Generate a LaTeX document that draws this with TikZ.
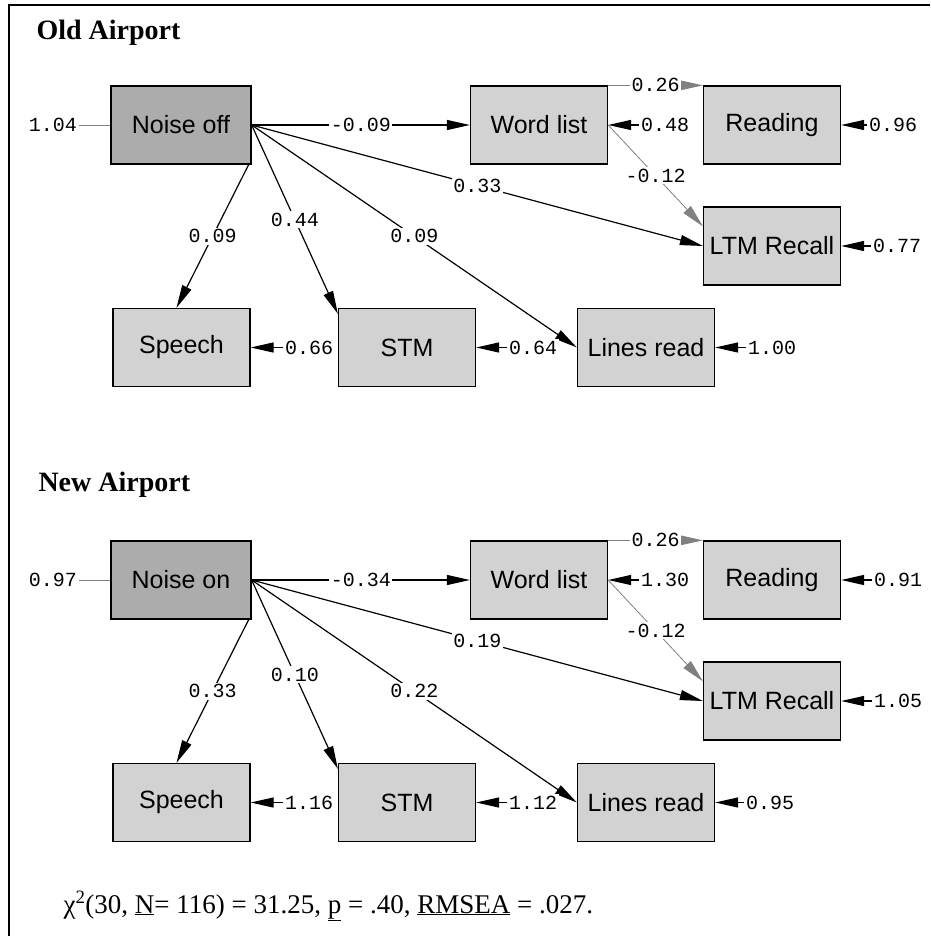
\documentclass[tikz,border=0pt]{standalone}
\usepackage{fontspec}
\setmainfont{Liberation Serif}
\setsansfont{Liberation Sans}
\setmonofont{Liberation Mono}
\usepackage{tikz}
\usetikzlibrary{arrows.meta}
\usepackage{xcolor}

\begin{document}
\begin{tikzpicture}[
    x=1pt, y=-1pt,
    var box/.style={draw, line width=1.3pt, fill=gray!35, inner sep=0pt,
        minimum width=137pt, minimum height=78pt,
        font=\sffamily\fontsize{25}{25}\selectfont},
    noise box/.style={var box, fill=gray!65, minimum width=140pt},
    coef/.style={font=\ttfamily\fontsize{20}{20}\selectfont, fill=white,
        text=black, inner sep=1.5pt},
    path line/.style={line width=1.2pt, -{Triangle[length=23pt, width=10pt]}},
    weak line/.style={gray, line width=0.8pt,
        -{Triangle[length=23pt, width=10pt]}},
    free line/.style={gray, line width=0.9pt},
    title/.style={anchor=base west, font=\bfseries\fontsize{28}{28}\selectfont}
    ]
    \useasboundingbox (0,0) rectangle (930,936);
    % Frame
    \draw[line width=1.3pt] (9,936) -- (9,5) -- (930,5);

    % Old airport
    \node[title] (oldtitle) at (33,40) {Old Airport};
    \node[noise box] (noiseoff) at (181,125) {Noise off};
    \node[var box] (wlA) at (539,125) {Word list};
    \node[var box] (readA) at (772,125) {Reading};
    \node[var box] (ltmA) at (772,246) {LTM Recall};
    \node[var box] (speechA) at (181.5,347.5) {Speech};
    \node[var box] (stmA) at (407,347.5) {STM};
    \node[var box] (linesA) at (646,347.5) {Lines read};
    % Paths
    \draw[path line] (noiseoff.east) -- node[coef] {-0.09} (wlA.west);
    \draw[path line] (noiseoff.east) -- node[coef] {0.33} (ltmA.west);
    \draw[path line] (noiseoff.east) -- node[coef] {0.09} (linesA.west);
    \draw[path line] (noiseoff.east) -- node[coef] {0.44}
        ([yshift=-6pt]stmA.north west);
    \draw[path line] ([xshift=-3pt]noiseoff.south east) -- node[coef] {0.09}
        ([xshift=-5pt]speechA.north);
    \draw[weak line] (wlA.north east) -- node[coef] {0.26} (readA.north west);
    \draw[weak line] (wlA.east) -- node[coef] {-0.12}
        ([yshift=-20pt]ltmA.north west);
    % Residuals
    \node[coef] (e104) at (53,125) {1.04};
    \node[coef] (e048) at (665,125) {0.48};
    \node[coef] (e096) at (893,125) {0.96};
    \node[coef] (e077) at (897,246) {0.77};
    \node[coef] (e066) at (309,347.5) {0.66};
    \node[coef] (e064) at (533,347.5) {0.64};
    \node[coef] (e100) at (772,347.5) {1.00};
    \draw[free line] (e104) -- (noiseoff);
    \draw[path line] (e048) -- (wlA);
    \draw[path line] (e096) -- (readA);
    \draw[path line] (e077) -- (ltmA);
    \draw[path line] (e066) -- (speechA);
    \draw[path line] (e064) -- (stmA);
    \draw[path line] (e100) -- (linesA);

    % New airport
    \begin{scope}[shift={(0,455)}]
    \node[title] (newtitle) at (35,36) {New Airport};
    \node[noise box] (noiseon) at (181,125) {Noise on};
    \node[var box] (wlB) at (539,125) {Word list};
    \node[var box] (readB) at (772,125) {Reading};
    \node[var box] (ltmB) at (772,246) {LTM Recall};
    \node[var box] (speechB) at (181.5,347.5) {Speech};
    \node[var box] (stmB) at (407,347.5) {STM};
    \node[var box] (linesB) at (646,347.5) {Lines read};
    % Paths
    \draw[path line] (noiseon.east) -- node[coef] {-0.34} (wlB.west);
    \draw[path line] (noiseon.east) -- node[coef] {0.19} (ltmB.west);
    \draw[path line] (noiseon.east) -- node[coef] {0.22} (linesB.west);
    \draw[path line] (noiseon.east) -- node[coef] {0.10}
        ([yshift=-6pt]stmB.north west);
    \draw[path line] ([xshift=-3pt]noiseon.south east) -- node[coef] {0.33}
        ([xshift=-5pt]speechB.north);
    \draw[weak line] (wlB.north east) -- node[coef] {0.26} (readB.north west);
    \draw[weak line] (wlB.east) -- node[coef] {-0.12}
        ([yshift=-20pt]ltmB.north west);
    % Residuals
    \node[coef] (e097) at (53,125) {0.97};
    \node[coef] (e130) at (665,125) {1.30};
    \node[coef] (e091) at (898,125) {0.91};
    \node[coef] (e105) at (898,246) {1.05};
    \node[coef] (e116) at (309,347.5) {1.16};
    \node[coef] (e112) at (533,347.5) {1.12};
    \node[coef] (e095) at (770,347.5) {0.95};
    \draw[free line] (e097) -- (noiseon);
    \draw[path line] (e130) -- (wlB);
    \draw[path line] (e091) -- (readB);
    \draw[path line] (e105) -- (ltmB);
    \draw[path line] (e116) -- (speechB);
    \draw[path line] (e112) -- (stmB);
    \draw[path line] (e095) -- (linesB);
    \end{scope}

    % Fit statistics
    \node[anchor=base west, font=\fontsize{27}{27}\selectfont] (fitstat)
        at (60,913) {χ\textsuperscript{2}(30, \underline{N}= 116) = 31.25,
        \underline{p} = .40, \underline{RMSEA} = .027.};
\end{tikzpicture}
\end{document}
